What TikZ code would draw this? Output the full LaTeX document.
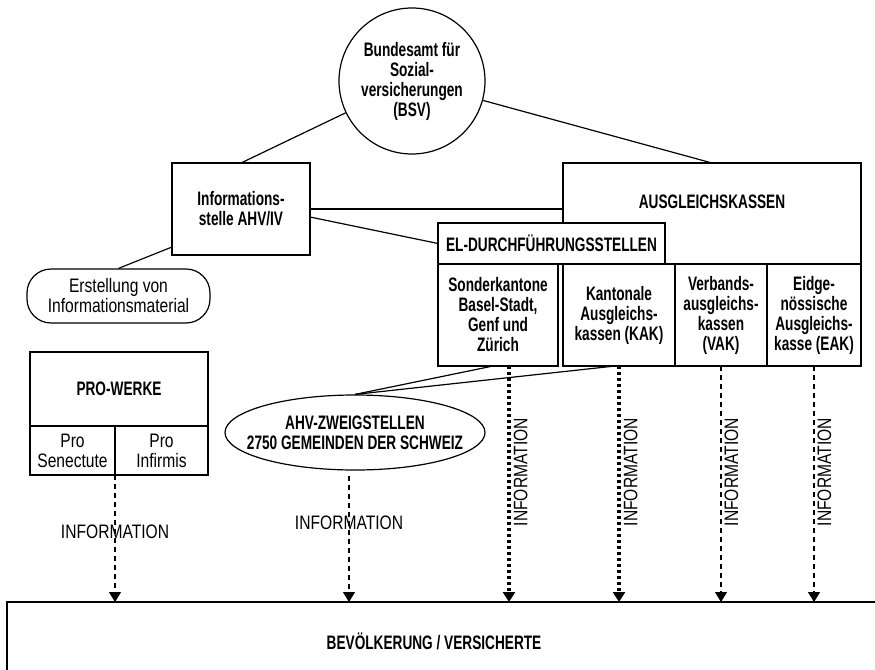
\documentclass[tikz,border=0pt]{standalone}
\usepackage{fontspec}
\setmainfont{Liberation Sans}[FakeStretch=0.8,BoldFeatures={FakeStretch=0.7}]
\usepackage{tikz}
\usetikzlibrary{arrows.meta, shapes.geometric, positioning}

\newcommand{\boldtxt}{\fontsize{19.5}{20}\selectfont\bfseries}
\newcommand{\lighttxt}{\fontsize{19.5}{20}\selectfont}

\begin{document}
\begin{tikzpicture}[
  x=1pt, y=-1pt,
  box/.style={rectangle, draw, line width=1.2pt, outer sep=0pt, fill=white,
              inner sep=2pt, align=center, font=\boldtxt},
  lightbox/.style={box, font=\lighttxt},
  circ/.style={circle, draw, line width=1.2pt, minimum size=146pt,
               inner sep=0pt, align=center, font=\boldtxt},
  pill/.style={rectangle, draw, line width=1.2pt, rounded corners=24pt,
               inner sep=0pt, align=center, font=\lighttxt},
  ell/.style={ellipse, draw, line width=1.2pt, inner sep=0pt},
  conn/.style={line width=1.2pt},
  tip/.style={-{Triangle[length=10pt, width=12pt]}},
  dasharrow/.style={tip, line width=1.1pt, dash pattern=on 5pt off 4pt},
  dotarrow/.style={tip, line width=3.4pt, dash pattern=on 3pt off 3pt},
  infoh/.style={font=\lighttxt, inner sep=0pt},
  infov/.style={font=\lighttxt, inner sep=3pt, rotate=90, anchor=north},
]
  \path[use as bounding box, clip] (0,0) rectangle (875,669);

  % top level
  \node[circ] (bsv) at (412,81) {Bundesamt für\\Sozial-\\versicherungen\\(BSV)};
  \node[box, minimum width=138pt, minimum height=92pt] (info) at (241,209)
    {Informations-\\stelle AHV/IV};
  \node[pill, minimum width=183pt, minimum height=54pt] (erst) at (118.5,296)
    {Erstellung von\\Informationsmaterial};

  % Ausgleichskassen and EL
  \node[box, minimum width=298pt, minimum height=101pt,
        label={[name=aklab, font=\boldtxt, yshift=12pt]center:AUSGLEICHSKASSEN}]
    (ak) at (712,213.5) {};
  \node[box, minimum width=227pt, minimum height=41pt] (el) at (551.5,243.5)
    {EL-DURCHFÜHRUNGSSTELLEN};
  \node[box, minimum width=120pt, minimum height=102pt] (sonder) at (498,315)
    {Sonderkantone\\Basel-Stadt,\\Genf und\\Zürich};
  \node[box, minimum width=112pt, minimum height=102pt] (kak) at (619,315)
    {Kantonale\\Ausgleichs-\\kassen (KAK)};
  \node[box, minimum width=92pt, minimum height=102pt, right=0pt of kak] (vak)
    {Verbands-\\ausgleichs-\\kassen\\(VAK)};
  \node[box, minimum width=94pt, minimum height=102pt, right=0pt of vak] (eak)
    {Eidge-\\nössische\\Ausgleichs-\\kasse (EAK)};

  % Pro-Werke
  \node[box, minimum width=178pt, minimum height=74pt] (pro) at (119,389) {PRO-WERKE};
  \node[lightbox, minimum width=85pt, minimum height=49pt, anchor=north west]
    (prosen) at (pro.south west) {Pro\\Senectute};
  \node[lightbox, minimum width=93pt, minimum height=49pt, right=0pt of prosen]
    (proinf) {Pro\\Infirmis};

  % Zweigstellen
  \node[ell, minimum width=260pt, minimum height=75pt,
        label={[name=zweiglab, font=\boldtxt, align=center]center:AHV-ZWEIGSTELLEN\\2750 GEMEINDEN DER SCHWEIZ}]
    (zweig) at (355,432.5) {};

  % Bevoelkerung
  \node[box, minimum width=900pt, minimum height=100pt, anchor=north west,
        label={[name=bevlab, font=\boldtxt, xshift=-23pt, yshift=11pt]center:BEVÖLKERUNG / VERSICHERTE}]
    (bev) at (7,602) {};

  % connections
  \draw[conn] (bsv) -- (info.north);
  \draw[conn] (bsv) -- (ak.north);
  \draw[conn] (info.east) -- (info.east -| ak.west);
  \draw[conn] ([yshift=-8pt]info.east) -- (el.west);
  \draw[conn] ([yshift=8pt]info.south west) -- (erst.north);
  \draw[conn] ([xshift=-5pt]sonder.south) -- (zweig.north);
  \draw[conn] ([xshift=-4pt]kak.south) -- (zweig.north);

  % information arrows
  \coordinate (ss) at ([xshift=11pt]sonder.south);
  \coordinate (zs) at ([xshift=-6pt]zweig.south);
  \draw[dasharrow] (prosen.south east) -- node[infoh, pos=0.45] (lab1) {INFORMATION}
    (prosen.south east |- bev.north);
  \draw[dasharrow, shorten <=5pt] (zs) -- node[infoh, pos=0.4] (lab2) {INFORMATION}
    (zs |- bev.north);
  \draw[dotarrow] (ss) -- node[infov, pos=0.45] (lab3) {INFORMATION} (ss |- bev.north);
  \draw[dotarrow] (kak.south) -- node[infov, pos=0.45] (lab4) {INFORMATION} (kak.south |- bev.north);
  \draw[dasharrow] (vak.south) -- node[infov, pos=0.45] (lab5) {INFORMATION} (vak.south |- bev.north);
  \draw[dasharrow] (eak.south) -- node[infov, pos=0.45] (lab6) {INFORMATION} (eak.south |- bev.north);
\end{tikzpicture}
\end{document}
